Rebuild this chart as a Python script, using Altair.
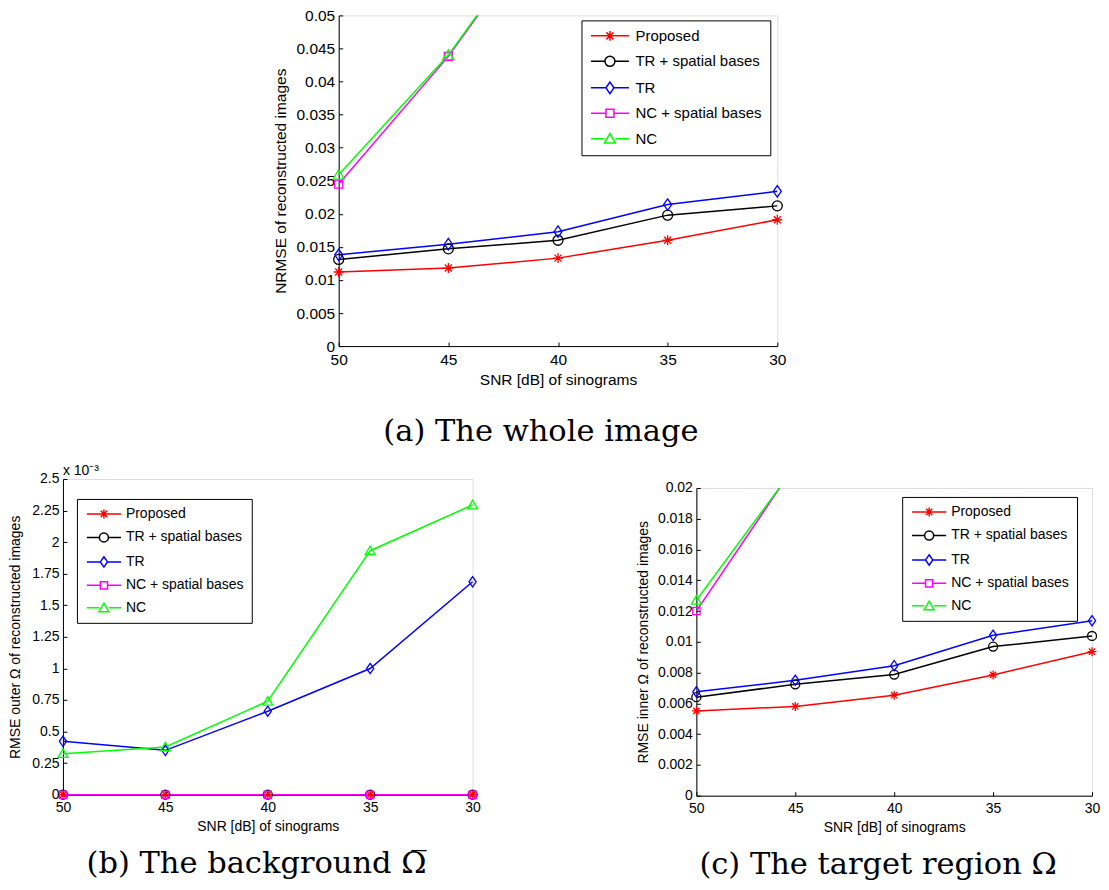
import altair as alt
import pandas as pd

snr = [50, 45, 40, 35, 30]
series_names = ["Proposed", "TR + spatial bases", "TR", "NC + spatial bases", "NC"]
series_colors = ["#ff0000", "#000000", "#0000ff", "#ff00ff", "#00ff00"]

# (a) NRMSE of the whole image
a_proposed = [0.0112, 0.0118, 0.0133, 0.0160, 0.0191]
a_tr_spatial = [0.0131, 0.0147, 0.0160, 0.0198, 0.0212]
a_tr = [0.0138, 0.0154, 0.0173, 0.0214, 0.0234]
a_nc_spatial = [0.0245, 0.0438, 0.0668, 0.0950, 0.1300]
a_nc = [0.0259, 0.0440, 0.0670, 0.0950, 0.1300]
a_yticks = [0, 0.005, 0.01, 0.015, 0.02, 0.025, 0.03, 0.035, 0.04, 0.045, 0.05]

# (b) RMSE outside Omega, in units of 1e-3
b_proposed = [0, 0, 0, 0, 0]
b_tr_spatial = [0, 0, 0, 0, 0]
b_tr = [0.423, 0.351, 0.661, 0.999, 1.686]
b_nc_spatial = [0, 0, 0, 0, 0]
b_nc = [0.325, 0.378, 0.740, 1.932, 2.294]
b_yticks = [0, 0.25, 0.5, 0.75, 1, 1.25, 1.5, 1.75, 2, 2.25, 2.5]

# (c) RMSE inside Omega
c_proposed = [0.00551, 0.00580, 0.00653, 0.00785, 0.00936]
c_tr_spatial = [0.00640, 0.00724, 0.00787, 0.00969, 0.01038]
c_tr = [0.00675, 0.00750, 0.00845, 0.01042, 0.01137]
c_nc_spatial = [0.0120, 0.0215, 0.0320, 0.0450, 0.0600]
c_nc = [0.0127, 0.0214, 0.0320, 0.0450, 0.0600]
c_yticks = [0, 0.002, 0.004, 0.006, 0.008, 0.01, 0.012, 0.014, 0.016, 0.018, 0.02]

SANS = "Liberation Sans"
SERIF = "DejaVu Serif"

# marker outlines (unit square coordinates)
STAR = "M-1,0L1,0M0,-1L0,1M-0.7,-0.7L0.7,0.7M-0.7,0.7L0.7,-0.7"
CIRCLE = "M1,0A1,1,0,1,1,-1,0A1,1,0,1,1,1,0Z"
DIAMOND = "M0,-1.15L0.8,0L0,1.15L-0.8,0Z"
SQUARE = "M-0.8,-0.8L0.8,-0.8L0.8,0.8L-0.8,0.8Z"
TRIANGLE = "M0,-1.05L1.1,0.85L-1.1,0.85Z"
markers = [STAR, CIRCLE, DIAMOND, SQUARE, TRIANGLE]
legend_symbols = [
    "M-3.8,0L3.8,0" + STAR,
    "M-3.8,0L-1,0M1,0L3.8,0" + CIRCLE,
    "M-3.8,0L-0.8,0M0.8,0L3.8,0" + DIAMOND,
    "M-3.8,0L-0.8,0M0.8,0L3.8,0" + SQUARE,
    "M-3.8,0L-1.1,0M1.1,0L3.8,0" + TRIANGLE,
]


def panel(vals, yticks, ymax, ytitle, width, height, fs, lfs, msize, lx, ly,
          lpad, rowpad, symoff, laboff, ytitle_pad=7, clip_lines=True, top_title=None):
    rows = []
    for name, v in zip(series_names, vals):
        for s, val in zip(snr, v):
            rows.append({"snr": s, "value": val, "series": name})
    df = pd.DataFrame(rows)

    x = alt.X(
        "snr:Q",
        scale=alt.Scale(domain=[30, 50], reverse=True, nice=False, zero=False),
        axis=alt.Axis(
            values=snr, title="SNR [dB] of sinograms", grid=False,
            labelFont=SANS, titleFont=SANS, labelFontSize=fs, titleFontSize=fs,
            titleFontWeight="normal", labelColor="black", titleColor="black",
            domainColor="black", tickColor="black", tickSize=alt.ExprRef(expr="-4"),
            labelPadding=10, titlePadding=5, labelFlush=False,
        ),
    )
    y = alt.Y(
        "value:Q",
        scale=alt.Scale(domain=[0, ymax], nice=False, zero=True),
        axis=alt.Axis(
            values=yticks, title=ytitle, grid=False, format=".6~g",
            labelFont=SANS, titleFont=SANS, labelFontSize=fs, titleFontSize=fs,
            titleFontWeight="normal", labelColor="black", titleColor="black",
            domainColor="black", tickColor="black", tickSize=alt.ExprRef(expr="-4"),
            labelPadding=8, titlePadding=ytitle_pad, labelFlush=False, labelBound=False,
        ),
    )
    color_nolegend = alt.Color(
        "series:N", scale=alt.Scale(domain=series_names, range=series_colors), legend=None
    )
    base = alt.Chart(df)
    lines = base.mark_line(clip=clip_lines, strokeWidth=1.5).encode(
        x=x, y=y, color=color_nolegend, detail="series:N"
    )
    points = base.transform_filter(f"datum.value <= {ymax}").mark_point(
        filled=False, size=msize, strokeWidth=1.3, opacity=1
    ).encode(
        x=x, y=y, color=color_nolegend,
        shape=alt.Shape("series:N", scale=alt.Scale(domain=series_names, range=markers), legend=None),
    )
    leg = alt.Legend(
        orient="none", legendX=lx, legendY=ly, title=None, direction="vertical",
        fillColor="white", strokeColor="black", padding=lpad, rowPadding=rowpad,
        labelFont=SANS, labelFontSize=lfs, labelColor="black", labelLimit=400,
        symbolSize=msize, symbolStrokeWidth=1.5, symbolOffset=symoff, labelOffset=laboff,
    )
    legend_layer = base.transform_filter("datum.value < -1").mark_point(
        filled=False, size=msize, strokeWidth=1.5, opacity=1
    ).encode(
        x=x, y=y,
        color=alt.Color("series:N", scale=alt.Scale(domain=series_names, range=series_colors), legend=leg),
        shape=alt.Shape("series:N", scale=alt.Scale(domain=series_names, range=legend_symbols), legend=leg),
    )
    ch = alt.layer(lines, points, legend_layer).resolve_scale(
        color="independent", shape="independent"
    ).properties(width=width, height=height)
    if top_title is not None:
        ch = ch.properties(title=top_title)
    return ch


panel_a = panel(
    [a_proposed, a_tr_spatial, a_tr, a_nc_spatial, a_nc], a_yticks, 0.05,
    "NRMSE of reconstructed images", 439, 331, 15.5, 15, 100, 243, 5, 8, 8.5, 13, 18,
)
panel_b = panel(
    [b_proposed, b_tr_spatial, b_tr, b_nc_spatial, b_nc], b_yticks, 2.5,
    "RMSE outer Ω of reconstructed images", 410, 316, 14, 14, 81, 14, 20, 8, 7.5, 12, 15,
    ytitle_pad=9, clip_lines=False,
    top_title=alt.TitleParams("x 10⁻³", anchor="start", frame="group", font=SANS,
                              fontSize=14, fontWeight="normal", color="black", offset=-6),
)
panel_c = panel(
    [c_proposed, c_tr_spatial, c_tr, c_nc_spatial, c_nc], c_yticks, 0.02,
    "RMSE inner Ω of reconstructed images", 396, 308, 14, 14, 81, 206, 9, 8, 7.5, 12, 15,
)


def caption(text, dx, offset):
    return alt.TitleParams(text, orient="bottom", anchor="middle", font=SERIF,
                           fontSize=30.5, fontWeight="normal", color="black",
                           offset=offset, dx=dx)


def spacer():
    return alt.Chart(pd.DataFrame({"v": [0]})).mark_point(opacity=0, size=1).properties(width=1, height=1)


wrap_a = alt.vconcat(panel_a).properties(title=caption("(a)  The whole image", 11, 28))
wrap_b = alt.vconcat(panel_b).properties(title=caption("(b)  The background Ω\u0305", 12, 15))
wrap_c = alt.vconcat(spacer(), panel_c, spacing=0).properties(
    title=caption("(c)  The target region Ω", 10, 15))

top = alt.hconcat(spacer(), wrap_a, spacing=209)
bottom = alt.hconcat(wrap_b, wrap_c, spacing=154)

chart = alt.vconcat(top, bottom, spacing=16).properties(
    padding={"left": 0, "top": -1, "right": 0, "bottom": 0}
).configure_view(strokeWidth=0).configure(background="white")

chart.save("out.html", embed_options={"renderer": "svg", "actions": False})
